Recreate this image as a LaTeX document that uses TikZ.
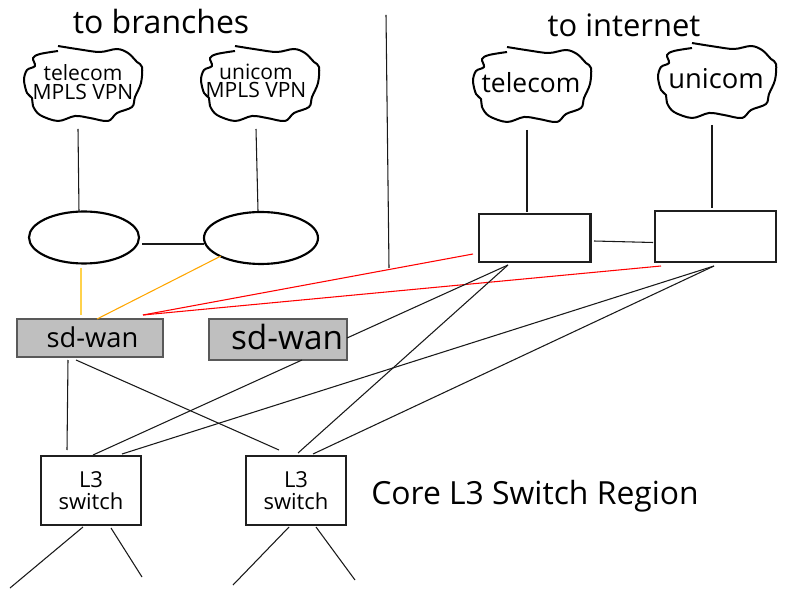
\documentclass[tikz,border=0pt]{standalone}
\usepackage{fontspec}
\setmainfont{Open Sans}
\usetikzlibrary{shapes.geometric}
\newcommand{\fsz}[2]{\fontsize{#1}{#2}\selectfont}
\newcommand{\cloudat}[3]{\draw[cloudline,shift={(#1.center)},xshift=#2*0.75pt,yshift=-#3*0.75pt] plot[smooth,tension=0.55] coordinates {(-25,-38)(-3,-34.5)(17,-32)(34,-35)(45,-31)(54,-22)(59,-17)(58,-1)(52,13)(49,23)(34,29)(25,37)(7,34)(-8,32)(-25,37)(-43,31)(-50,22)(-51,14)(-56,9)(-59,-4)(-56,-14)(-48,-18)(-50,-26)(-43,-30)(-25,-33)};}
\tikzset{
  cloudline/.style={line width=1.5pt,black,line join=round},
  cloudtext/.style={inner sep=0pt,align=center},
  title/.style={inner sep=0pt,font=\fsz{24}{28}},
  ringnode/.style={draw=black,line width=1.6pt,ellipse,inner sep=0pt},
  boxnode/.style={draw=black!88,line width=1.9pt,inner sep=0pt,fill=white},
  sdnode/.style={draw=black!65,line width=1.1pt,fill=black!25,inner sep=0pt},
  link/.style={line width=0.8pt,black!90},
  amber/.style={line width=0.8pt,draw=orange!70!yellow},
  paleamber/.style={line width=0.9pt,draw=orange!50!yellow!70},
  redlink/.style={line width=0.8pt,red},
}
\begin{document}
\begin{tikzpicture}[x=0.75pt,y=-0.75pt]
\useasboundingbox (0,0) rectangle (791,605);
% titles
\node[title] (tb) at (161,22) {to branches};
\node[title,font=\fsz{23.2}{26}] (ti) at (624,25) {to internet};
\node[title,font=\fsz{23.9}{28}] (core) at (535,496) {Core L3 Switch Region};
% clouds
\node[cloudtext,font=\fsz{15.8}{14}] (cA) at (83,82) {telecom\\MPLS VPN};
\node[cloudtext,font=\fsz{15.8}{14}] (cB) at (256,81) {unicom\\MPLS VPN};
\node[cloudtext,font=\fsz{19.8}{22}] (cC) at (531,83) {telecom};
\node[cloudtext,font=\fsz{20.5}{22}] (cD) at (716,79) {unicom};
\cloudat{cA}{0}{2}
\cloudat{cB}{4}{3}
\cloudat{cC}{1}{2}
\cloudat{cD}{1}{2}
% ellipses and boxes
\node[ringnode,minimum width=82.5pt,minimum height=39pt] (eA) at (84,237.5) {};
\node[ringnode,minimum width=85.5pt,minimum height=39pt] (eB) at (261,238) {};
\node[boxnode,minimum width=83.5pt,minimum height=36pt] (tA) at (534.75,238) {};
\node[boxnode,minimum width=90.75pt,minimum height=38.25pt] (tB) at (715.5,236.5) {};
\node[sdnode,minimum width=109.5pt,minimum height=28.5pt,font=\fsz{20.5}{22}] (sA) at (90,338) {\hspace*{3.75pt}\raisebox{1pt}{sd-wan}};
\node[sdnode,minimum width=103.5pt,minimum height=30.75pt,font=\fsz{25}{28}] (sB) at (278,339.5) {\hspace*{13.5pt}\raisebox{4pt}{sd-wan}};
\node[boxnode,minimum width=75pt,minimum height=52pt,align=center,font=\fsz{16.5}{17}] (lA) at (91,490.5) {L3\\switch};
\node[boxnode,minimum width=75pt,minimum height=52pt,align=center,font=\fsz{16.5}{17}] (lB) at (296,490.5) {L3\\switch};
% free ends
\coordinate (vTop) at (386,15);
\coordinate (vBot) at (389,268);
\coordinate (leafA) at (10,588);
\coordinate (leafB) at (142,577);
\coordinate (leafC) at (233,585);
\coordinate (leafD) at (355,580);
% connectors
\draw[link] ([shift={(-5,47)}]cA.center) -- ([shift={(-5,-25.5)}]eA.center);
\draw[link] ([shift={(0,48)}]cB.center) -- ([shift={(-3,-27)}]eB.center);
\draw[link] ([shift={(-4,47)}]cC.center) -- ([shift={(-7.75,-26)}]tA.center);
\draw[link] ([shift={(-4,46)}]cD.center) -- ([shift={(-3.5,-28.5)}]tB.center);
\draw[link] ([shift={(58,6.5)}]eA.center) -- ([shift={(-57,6)}]eB.center);
\draw[link] ([shift={(59.25,3)}]tA.center) -- ([shift={(-62.5,6)}]tB.center);
\draw[paleamber] ([shift={(-3,30.5)}]eA.center) -- ([shift={(-9,-23)}]sA.center);
\draw[amber] ([shift={(-40,18)}]eB.center) -- ([shift={(7,-19)}]sA.center);
\draw[redlink] ([shift={(-61.75,16)}]tA.center) -- ([shift={(53,-23)}]sA.center);
\draw[redlink] ([shift={(-54.5,29.5)}]tB.center) -- ([shift={(53,-23)}]sA.center);
\draw[link] (vTop) -- (vBot);
\draw[link] ([shift={(-26.75,27)}]tA.center) -- ([shift={(69,-1.5)}]sB.center);
\draw[link] ([shift={(-26.75,27)}]tA.center) -- ([shift={(2,-37.5)}]lB.center);
\draw[link] ([shift={(-1.5,29.5)}]tB.center) -- ([shift={(31,-36.5)}]lA.center);
\draw[link] ([shift={(-1.5,29.5)}]tB.center) -- ([shift={(17,-36.5)}]lB.center);
\draw[link] ([shift={(24,20.5)}]sB.center) -- ([shift={(2,-35.5)}]lA.center);
\draw[link] ([shift={(-22,22)}]sA.center) -- ([shift={(-24,-40.5)}]lA.center);
\draw[link] ([shift={(-14,22)}]sA.center) -- ([shift={(-17,-40.5)}]lB.center);
\draw[link] ([shift={(-8,36.5)}]lA.center) -- (leafA);
\draw[link] ([shift={(20,37.5)}]lA.center) -- (leafB);
\draw[link] ([shift={(-7,36.5)}]lB.center) -- (leafC);
\draw[link] ([shift={(20,36.5)}]lB.center) -- (leafD);
\end{tikzpicture}
\end{document}
